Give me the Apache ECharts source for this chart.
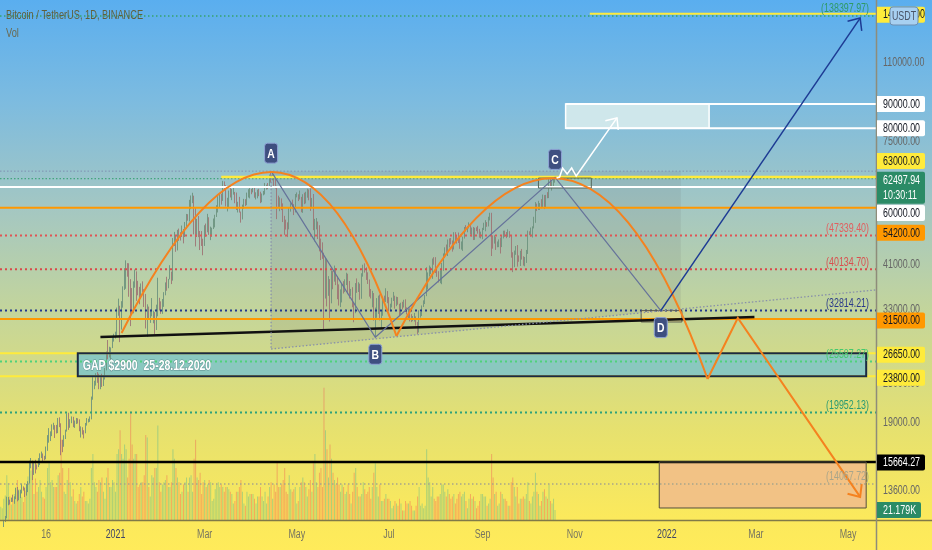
<!DOCTYPE html>
<html>
<head>
<meta charset="utf-8">
<title>Bitcoin / TetherUS, 1D, BINANCE</title>
<script src="https://cdn.jsdelivr.net/npm/echarts@6.0.0/dist/echarts.min.js"></script>
<style>
html,body{margin:0;padding:0;overflow:hidden;background:#fff;}
#chart{width:932px;height:550px;}
</style>
</head>
<body>
<div id="chart"></div>
<script>
// ---------------- categories: one per calendar day ----------------
const firstDay = '2020-10-17';
const dayCount = 580;
const categories = [];
(function () {
  const t0 = Date.parse(firstDay + 'T00:00:00Z');
  for (let i = 0; i < dayCount; i++) categories.push(new Date(t0 + i * 86400000).toISOString().slice(0, 10));
})();

// ---------------- daily candles (thousand USDT): [open, high, low, close] ----------------
const ohlcOct20 = [[11.32,11.42,11.24,11.36],[11.36,11.49,11.33,11.48],[11.48,11.80,11.40,11.74],[11.74,12.03,11.68,11.92],[11.92,13.22,11.90,12.82],[12.82,13.20,12.68,12.97],[12.97,13.03,12.72,12.93],[12.93,13.16,12.88,13.12],[13.12,13.35,12.90,13.04],[13.04,13.24,12.77,13.07],[13.07,13.79,13.06,13.64],[13.64,13.86,12.92,13.27],[13.27,13.64,12.99,13.46],[13.46,13.68,13.13,13.56],[13.56,14.10,13.43,13.80]];
const ohlcNov20 = [[13.80,13.90,13.62,13.76],[13.76,13.82,13.20,13.55],[13.55,14.07,13.29,14.03],[14.03,14.26,13.52,14.16],[14.16,15.76,14.09,15.59],[15.59,15.97,15.19,15.59],[15.59,15.77,14.34,14.84],[14.84,15.67,14.70,15.48],[15.48,15.83,14.81,15.33],[15.33,15.48,15.10,15.31],[15.31,15.96,15.28,15.70],[15.70,16.34,15.43,16.28],[16.28,16.48,15.96,16.32],[16.32,16.33,15.71,16.07],[16.07,16.14,15.80,15.96],[15.96,16.89,15.87,16.72],[16.72,17.86,16.54,17.66],[17.66,18.48,17.21,17.80],[17.80,18.19,17.35,17.82],[17.82,18.82,17.77,18.65],[18.65,18.97,18.34,18.70],[18.70,18.75,17.61,18.42],[18.42,18.77,18.00,18.37],[18.37,19.42,18.03,19.15],[19.15,19.48,18.57,18.73],[18.73,18.92,16.19,17.15],[17.15,17.46,16.43,17.14],[17.14,17.85,16.87,17.72],[17.72,18.34,17.52,18.18],[18.18,19.86,18.17,19.70]];
const ohlcDec20 = [[19.70,19.92,18.32,18.77],[18.77,19.31,18.51,19.21],[19.21,19.57,18.93,19.42],[19.42,19.53,18.57,18.65],[18.65,19.18,18.50,19.15],[19.15,19.42,18.86,19.36],[19.36,19.39,18.90,19.17],[19.17,19.29,18.20,18.32],[18.32,18.64,17.65,18.55],[18.55,18.56,17.91,18.25],[18.25,18.29,17.57,18.04],[18.04,18.95,18.02,18.80],[18.80,19.41,18.71,19.17],[19.17,19.35,19.00,19.27],[19.27,19.57,19.05,19.43],[19.43,21.56,19.29,21.37],[21.37,23.80,21.23,22.80],[22.80,23.29,22.35,23.11],[23.11,24.17,22.75,23.83],[23.83,24.30,23.06,23.47],[23.47,24.10,22.35,22.72],[22.72,23.84,22.35,23.81],[23.81,24.10,22.60,23.23],[23.23,23.79,22.70,23.73],[23.73,24.79,23.43,24.71],[24.71,26.87,24.50,26.49],[26.49,28.42,25.86,26.28],[26.28,27.50,26.10,27.08],[27.08,27.41,25.88,27.39],[27.39,28.99,27.32,28.88],[28.88,29.30,28.20,28.92]];
const ohlcJan21 = [[28.92,29.60,28.62,29.33],[29.33,33.30,28.95,32.18],[32.18,34.79,32.00,33.00],[33.00,33.60,28.13,31.99],[31.99,34.36,29.90,33.95],[33.95,36.94,33.29,36.77],[36.77,40.37,36.30,39.43],[39.43,41.95,36.50,40.58],[40.58,41.38,38.72,40.09],[40.09,41.35,35.11,38.15],[38.15,38.26,30.42,35.40],[35.40,36.63,32.53,34.05],[34.05,37.85,32.38,37.37],[37.37,40.10,36.70,39.15],[39.15,39.75,34.41,36.74],[36.74,37.95,35.36,36.01],[36.01,36.85,33.85,35.80],[35.80,37.47,34.80,36.63],[36.63,37.85,35.90,36.01],[36.01,36.42,33.40,35.53],[35.53,35.60,30.07,30.83],[30.83,33.83,28.85,33.01],[33.01,33.46,31.39,32.09],[32.09,32.94,30.90,32.27],[32.27,34.88,31.91,32.37],[32.37,32.79,30.84,32.57],[32.57,32.57,29.24,30.43],[30.43,33.78,29.85,33.47],[33.47,38.53,31.91,34.32],[34.32,34.93,32.83,34.28],[34.28,34.33,32.30,33.11]];
const ohlcFeb21 = [[33.11,34.72,32.30,33.53],[33.53,35.90,33.42,35.51],[35.51,37.66,35.36,37.67],[37.67,38.71,36.16,36.92],[36.92,38.31,36.60,38.29],[38.29,40.96,38.22,39.26],[39.26,39.70,37.35,38.88],[38.88,46.79,37.99,46.45],[46.45,48.20,45.00,46.51],[46.51,47.31,43.73,44.84],[44.84,48.68,44.02,47.97],[47.97,48.98,46.13,47.41],[47.41,48.13,46.20,47.23],[47.23,49.71,47.02,48.69],[48.69,48.88,45.57,47.94],[47.94,50.60,47.00,49.16],[49.16,52.62,48.95,52.15],[52.15,52.55,50.90,51.68],[51.68,56.37,50.71,55.89],[55.89,57.58,53.86,55.92],[55.92,58.35,55.48,57.41],[57.41,57.53,47.62,54.09],[54.09,54.18,44.89,48.89],[48.89,51.37,47.00,49.68],[49.68,52.07,46.99,47.07],[47.07,48.42,44.11,46.28],[46.28,48.39,45.00,46.11],[46.11,46.62,43.00,45.14]];
const ohlcMar21 = [[45.14,49.79,45.00,49.59],[49.59,50.20,47.05,48.44],[48.44,52.64,48.10,50.35],[50.35,51.77,47.50,48.37],[48.37,49.45,46.30,48.75],[48.75,49.20,47.07,48.88],[48.88,51.45,48.88,50.97],[50.97,52.40,49.27,52.38],[52.38,54.90,51.85,54.88],[54.88,57.39,53.00,55.86],[55.86,58.15,54.27,57.80],[57.80,58.06,55.06,57.22],[57.22,61.84,56.08,61.18],[61.18,61.68,59.00,59.00],[59.00,60.60,54.57,55.64],[55.64,56.94,53.27,56.91],[56.91,58.99,54.12,58.91],[58.91,60.05,57.02,57.65],[57.65,59.45,56.27,58.03],[58.03,59.88,57.82,58.10],[58.10,58.59,55.45,57.35],[57.35,58.42,53.65,54.08],[54.08,55.83,53.00,54.34],[54.34,57.20,52.97,52.30],[52.30,53.23,50.43,51.30],[51.30,55.07,51.23,55.05],[55.05,56.64,53.96,55.86],[55.86,56.56,54.69,55.78],[55.78,58.40,54.90,57.63],[57.63,59.37,57.01,58.73],[58.73,59.80,56.77,58.74]];
const ohlcApr21 = [[58.74,59.46,57.94,58.72],[58.72,60.04,58.46,58.99],[58.99,59.79,56.96,57.06],[57.06,58.49,56.48,58.20],[58.20,59.25,56.79,59.13],[59.13,59.48,57.37,57.99],[57.99,58.66,55.47,56.00],[56.00,58.15,55.70,58.08],[58.08,58.88,57.63,58.09],[58.09,61.22,57.87,59.77],[59.77,60.70,59.26,60.00],[60.00,61.20,59.37,59.86],[59.86,63.77,59.79,63.58],[63.58,64.85,61.30,62.96],[62.96,63.80,62.02,63.16],[63.16,63.56,60.00,61.34],[61.34,62.50,59.58,60.01],[60.01,60.40,51.30,56.15],[56.15,57.53,54.22,55.66],[55.66,57.06,53.33,56.47],[56.47,56.76,53.62,53.80],[53.80,55.41,50.58,51.70],[51.70,52.13,47.50,51.15],[51.15,51.17,48.75,50.11],[50.11,50.50,47.00,49.07],[49.07,54.36,48.80,54.03],[54.03,55.46,53.22,55.04],[55.04,56.43,53.88,54.86],[54.86,55.20,52.33,53.56],[53.56,58.00,53.01,57.69]];
const ohlcMay21 = [[57.69,58.45,57.05,57.80],[57.80,57.93,56.04,56.58],[56.58,58.98,56.48,57.17],[57.17,57.20,53.05,53.20],[53.20,57.94,52.90,57.44],[57.44,58.36,55.20,56.40],[56.40,58.64,55.38,57.35],[57.35,59.50,56.96,58.86],[58.86,59.30,56.24,58.24],[58.24,59.59,53.40,55.82],[55.82,56.90,54.44,56.67],[56.67,58.00,48.60,49.38],[49.38,51.37,46.00,49.70],[49.70,51.58,48.80,49.88],[49.88,50.70,46.55,46.76],[46.76,49.79,43.83,46.45],[46.45,46.64,42.00,43.54],[43.54,45.80,42.25,42.90],[42.90,43.55,30.00,36.96],[36.96,42.45,34.80,40.60],[40.60,42.25,33.49,37.30],[37.30,38.83,35.27,37.53],[37.53,38.27,31.11,34.65],[34.65,39.92,34.00,38.80],[38.80,39.80,36.42,38.32],[38.32,40.89,37.80,39.24],[39.24,40.41,37.17,38.44],[38.44,38.86,34.69,35.66],[35.66,37.30,33.63,34.59],[34.59,36.40,33.38,35.65],[35.65,37.50,34.15,37.34]];
const ohlcJun21 = [[37.34,37.89,35.67,36.69],[36.69,38.23,35.92,37.57],[37.57,39.48,37.17,39.19],[39.19,39.29,35.56,36.85],[36.85,37.92,34.80,35.52],[35.52,36.48,35.26,35.80],[35.80,36.79,33.35,33.59],[33.59,34.07,31.00,33.38],[33.38,37.53,32.40,37.39],[37.39,38.40,35.79,36.69],[36.69,37.69,35.94,37.34],[37.34,37.44,34.60,35.55],[35.55,39.38,34.76,39.02],[39.02,41.06,38.73,40.52],[40.52,41.33,39.51,40.14],[40.14,40.53,38.12,38.35],[38.35,39.56,37.37,38.09],[38.09,38.20,35.13,35.82],[35.82,36.46,34.82,35.48],[35.48,36.14,33.34,35.60],[35.60,35.75,31.25,31.68],[31.68,33.30,28.81,32.51],[32.51,34.88,31.68,33.68],[33.68,35.30,32.29,34.64],[34.64,35.50,31.28,31.64],[31.64,32.73,30.15,32.16],[32.16,34.75,32.00,34.65],[34.65,35.30,33.86,34.50],[34.50,36.60,34.23,35.91],[35.91,36.10,34.02,35.04]];
const ohlcJul21 = [[35.04,35.04,32.71,33.54],[33.54,33.94,32.70,33.80],[33.80,34.95,33.32,34.65],[34.65,35.94,34.39,35.29],[35.29,35.29,33.13,33.69],[33.69,35.12,33.53,34.22],[34.22,35.06,33.77,33.86],[33.86,33.92,32.11,32.88],[32.88,34.10,32.26,33.81],[33.81,34.26,33.00,33.51],[33.51,34.59,33.31,34.26],[34.26,34.68,32.66,33.09],[33.09,33.34,32.20,32.73],[32.73,33.11,31.57,32.82],[32.82,33.19,31.13,31.78],[31.78,32.25,31.02,31.39],[31.39,31.95,31.16,31.53],[31.53,32.44,31.10,31.78],[31.78,31.90,30.50,30.84],[30.84,31.04,29.28,29.79],[29.79,32.86,29.48,32.11],[32.11,32.58,31.71,32.29],[32.29,33.65,31.95,33.58],[33.58,34.50,33.40,34.29],[34.29,35.40,33.88,35.38],[35.38,40.55,35.21,37.27],[37.27,39.54,36.38,39.46],[39.46,40.90,38.77,39.98],[39.98,40.64,39.20,40.02],[40.02,42.32,38.32,42.20],[42.20,42.60,41.06,41.46]];
const ohlcAug21 = [[41.46,42.60,39.42,39.85],[39.85,40.45,38.69,39.15],[39.15,39.78,37.64,38.21],[38.21,39.97,37.51,39.74],[39.74,41.40,37.33,40.87],[40.87,43.39,39.85,42.84],[42.84,44.70,42.45,44.60],[44.60,45.31,43.26,43.83],[43.83,46.45,42.84,46.29],[46.29,46.70,44.67,45.60],[45.60,46.78,45.35,45.54],[45.54,46.22,43.77,44.40],[44.40,48.14,44.24,47.82],[47.82,48.14,45.97,47.10],[47.10,47.37,45.52,47.05],[47.05,48.05,45.66,45.97],[45.97,47.16,44.38,44.69],[44.69,46.00,44.20,44.71],[44.71,47.09,43.93,46.76],[46.76,49.38,46.65,49.34],[49.34,49.82,48.29,48.87],[48.87,49.53,48.12,49.29],[49.29,50.50,49.03,49.51],[49.51,49.88,47.60,47.71],[47.71,49.23,47.13,48.99],[48.99,49.37,46.32,46.85],[46.85,49.18,46.36,49.07],[49.07,49.30,48.37,48.90],[48.90,49.64,47.78,48.81],[48.81,48.91,46.86,46.99],[46.99,48.25,46.70,47.11]];
const ohlcSep21 = [[47.11,49.16,46.51,48.85],[48.85,50.40,48.64,49.28],[49.28,51.05,48.35,50.03],[50.03,50.56,49.41,49.94],[49.94,51.90,49.50,51.76],[51.76,52.92,50.98,52.66],[52.66,52.92,42.84,46.86],[46.86,47.38,44.41,46.05],[46.05,47.40,45.52,46.40],[46.40,47.03,44.13,44.85],[44.85,45.99,44.72,45.15],[45.15,46.46,44.74,46.06],[46.06,46.88,43.37,44.96],[44.96,47.25,44.75,47.09],[47.09,48.48,46.69,48.14],[48.14,48.49,47.04,47.76],[47.76,48.17,46.75,47.30],[47.30,48.81,47.05,48.31],[48.31,48.37,46.85,47.26],[47.26,47.34,42.50,42.97],[42.97,43.63,39.60,40.69],[40.69,44.00,40.57,43.57],[43.57,44.98,43.09,44.90],[44.90,45.20,40.68,42.84],[42.84,42.97,41.65,42.72],[42.72,43.94,40.80,43.21],[43.21,44.35,42.10,42.17],[42.17,42.79,40.89,41.03],[41.03,42.64,40.75,41.52],[41.52,44.13,41.42,43.82]];
const ohlcOct21 = [[43.82,48.50,43.28,48.14],[48.14,48.34,47.43,47.68],[47.68,49.23,47.10,48.23],[48.23,49.53,46.89,49.25],[49.25,51.89,49.02,51.49],[51.49,55.75,50.38,55.34],[55.34,55.34,53.36,53.80],[53.80,56.10,53.65,53.97],[53.97,55.49,53.66,54.97],[54.97,56.56,54.10,54.66],[54.66,57.84,54.42,57.48],[57.48,57.68,53.88,56.01],[56.01,57.75,54.25,57.37],[57.37,58.53,56.82,57.35],[57.35,62.93,56.85,61.67],[61.67,62.35,60.15,60.88],[60.88,61.72,58.96,61.53],[61.53,62.70,59.84,62.01],[62.01,62.90,61.30,62.49794]];

// ---------------- daily volume (thousand BTC) ----------------
const volOct20 = [28,25,45,52,95,78,50,33,40,55,70,85,65,60,48];
const volNov20 = [38,62,70,92,110,105,90,55,88,60,70,85,60,48,45,70,110,120,80,85,70,70,70,95,100,170,110,60,55,85];
const volDec20 = [110,80,50,65,40,35,40,55,70,50,60,40,40,35,45,110,140,80,70,60,85,80,90,60,45,90,110,70,70,85,80];
const volJan21 = [60,140,150,190,140,130,160,150,90,130,230,160,130,140,140,70,75,80,80,95,180,175,70,50,95,90,110,110,200,80,60];
const volFeb21 = [75,80,85,95,70,70,80,150,130,110,90,80,55,60,75,80,90,60,90,95,60,130,170,90,85,100,55,80];
const volMar21 = [85,70,75,85,80,40,45,65,75,80,70,75,70,60,70,70,65,60,55,35,40,60,60,70,85,60,35,30,60,50,55];
const volApr21 = [55,55,45,35,50,50,70,50,40,60,35,50,70,80,45,75,60,125,70,70,75,85,110,60,55,95,65,60,65,70];
const volMay21 = [35,40,70,80,90,80,70,50,65,85,60,120,140,80,70,100,110,70,280,190,150,90,160,130,100,85,75,90,75,60,75];
const volJun21 = [70,55,60,75,55,35,60,100,110,70,50,50,55,80,65,55,60,70,45,70,100,120,70,50,75,40,40,45,55,45];
const volJul21 = [45,40,25,30,40,35,30,45,35,20,20,40,35,35,40,30,20,20,30,50,70,30,35,25,30,150,90,80,50,70,45];
const volAug21 = [40,50,50,55,75,75,60,50,65,55,45,50,55,35,45,55,60,50,55,60,40,25,45,55,45,50,40,25,30,40,55];
const volSep21 = [55,50,50,30,35,45,140,90,55,60,30,35,60,55,45,45,40,30,30,80,90,70,50,70,35,45,45,50,45,55];
const volOct21 = [80,40,35,50,60,100,60,55,30,40,60,65,50,45,75,40,35,45,21.179];

// ---------------- price levels & scale texts ----------------
const keyLevels = [140000, 90000, 80000, 63000, 60000, 54200, 31500, 26650, 23800, 15664.27];
const measuredLevels = [138397.97, 47339.40, 40134.70, 32814.21, 25587.27, 19952.13, 14067.72];
const athLevel = 64854;
const lastPrice = 62497.94;
const countdownText = '10:30:11';
const lastVolumeK = 21.179;
const priceTicks = [110000, 75000, 41000, 33000, 23000, 19000, 13600];
const timeTickDates = ['2020-11-16','2021-01-01','2021-03-01','2021-05-01','2021-07-01','2021-09-01','2021-11-01','2022-01-01','2022-03-01','2022-05-01'];
const timeTickTexts = ['16','2021','Mar','May','Jul','Sep','Nov','2022','Mar','May'];

// ---------------- drawing anchors: [date, price] ----------------
const patternABCD = [['2021-04-14', 64854], ['2021-06-22', 28805], ['2021-10-19', 62900], ['2021-12-28', 32814.21]];
const patternNames = ['A', 'B', 'C', 'D'];
const supportLine = [['2020-12-22', 28845], ['2022-02-28', 31805]];
const arcOne = [['2021-01-05', 29413], ['2021-04-23', 142740], ['2021-07-06', 28987]];
const arcTwo = [['2021-07-06', 28987], ['2021-10-30', 149600], ['2022-01-28', 23490]];
const bearPath = [['2022-01-28', 23490], ['2022-02-17', 31650], ['2022-05-09', 13204]];
const bullPath = [['2021-12-28', 32814.21], ['2022-05-09', 137000]];
const breakoutPath = [['2021-10-20', 62700], ['2021-10-22', 63010], ['2021-10-24', 65866], ['2021-10-27', 63950], ['2021-10-30', 65866], ['2021-11-02', 63325], ['2021-11-29', 84116]];
const gapZone = [['2020-12-07', 26650], ['2022-05-13', 23800]];
const gapText = 'GAP $2900  25-28.12.2020';
const targetZone = [['2021-10-26', 90000], ['2022-01-29', 80000]];
const bottomZone = [['2021-12-27', 15664.27], ['2022-05-13', 12510]];
const zoneC = [['2021-10-08', 62700], ['2021-11-12', 59720]];
const zoneD = [['2021-12-15', 32814.21], ['2022-01-11', 31040]];
const channelFloor = [['2021-04-14', 27200], ['2022-05-19', 36290]];
const titleText = 'Bitcoin / TetherUS, 1D, BINANCE';
const volText = 'Vol';

// ---------------- build series data ----------------
const ohlcAll = [].concat(ohlcOct20, ohlcNov20, ohlcDec20, ohlcJan21, ohlcFeb21, ohlcMar21, ohlcApr21, ohlcMay21, ohlcJun21, ohlcJul21, ohlcAug21, ohlcSep21, ohlcOct21);
const volAll = [].concat(volOct20, volNov20, volDec20, volJan21, volFeb21, volMar21, volApr21, volMay21, volJun21, volJul21, volAug21, volSep21, volOct21);
const candleData = ohlcAll.map(r => [r[0] * 1000, r[3] * 1000, r[2] * 1000, r[1] * 1000]);
const volumeData = volAll.map((v, i) => ({
  value: v,
  itemStyle: { color: ohlcAll[i][3] >= ohlcAll[i][0] ? 'rgba(38,166,154,0.34)' : 'rgba(239,83,80,0.4)' }
}));
const idx = d => categories.indexOf(d);

// ---------------- styling ----------------
const SQ = 0.74;
const FONT = '"Liberation Sans", Arial, sans-serif';
const keyStyle = {
  140000: { c: '#ffeb3b', w: 2, from: '2021-11-11', box: '#ffeb3b', t: '#131722', dy: 1 },
  90000: { c: '#ffffff', w: 2, from: '2021-10-26', box: '#ffffff', t: '#131722', dy: 0 },
  80000: { c: '#ffffff', w: 2, from: '2021-10-26', box: '#ffffff', t: '#131722', dy: 0 },
  63000: { c: '#ffeb3b', w: 2.5, from: '2021-03-12', box: '#ffeb3b', t: '#131722', dy: -16 },
  60000: { c: '#ffffff', w: 2, box: '#ffffff', t: '#131722', dy: 26 },
  54200: { c: '#ff9800', w: 2, box: '#ff9800', t: '#131722', dy: 25 },
  31500: { c: '#ff9800', w: 2, box: '#ff9800', t: '#131722', dy: 1.5 },
  26650: { c: '#ffeb3b', w: 2, box: '#ffeb3b', t: '#131722', dy: 1.5 },
  23800: { c: '#ffeb3b', w: 2, box: '#ffeb3b', t: '#131722', dy: 1.5 },
  15664.27: { c: '#000000', w: 2.5, box: '#000000', t: '#ffffff', dy: 0.5 }
};
const measuredStyle = {
  138397.97: { c: '#36a36f', t: '#2f9a66', w: 1.5, dash: [1.5, 2.5] },
  47339.4: { c: '#e05454', t: '#e06060', w: 2, dash: [2, 3] },
  40134.7: { c: '#d84a4a', t: '#d85050', w: 2, dash: [2, 3] },
  32814.21: { c: '#22388f', t: '#2a3a8a', w: 2, dash: [2, 3] },
  25587.27: { c: '#4fd27a', t: '#45c96e', w: 2, dash: [2, 3] },
  19952.13: { c: '#2ea27a', t: '#2a9a72', w: 2, dash: [2, 3] },
  14067.72: { c: '#a8a58a', t: '#a8a58a', w: 1.5, dash: [1.5, 2.5] }
};

function txt(x, y, s, o) {
  o = o || {};
  return {
    type: 'text', x: x, y: y, scaleX: o.sq || SQ, silent: true,
    style: {
      text: s, x: 0, y: 0, fill: o.fill || '#6a6a6a',
      fontSize: o.size || 12, fontFamily: FONT, fontWeight: o.weight || 'normal',
      align: o.align || 'left', verticalAlign: 'middle',
      stroke: o.stroke || null, lineWidth: o.lw || 0
    }
  };
}
function seg(x1, y1, x2, y2, stroke, w, dash) {
  return { type: 'line', silent: true, shape: { x1: x1, y1: y1, x2: x2, y2: y2 }, style: { stroke: stroke, lineWidth: w, lineDash: dash || null, fill: 'none' } };
}
function poly(points, stroke, w, dash) {
  return { type: 'polyline', silent: true, shape: { points: points }, style: { stroke: stroke, lineWidth: w, lineDash: dash || null, fill: 'none' } };
}
function arrowHead(from, tip, len, stroke, w) {
  const a = Math.atan2(from[1] - tip[1], from[0] - tip[0]);
  const h = 0.72;
  return poly([[tip[0] + len * Math.cos(a + h), tip[1] + len * Math.sin(a + h)], tip, [tip[0] + len * Math.cos(a - h), tip[1] + len * Math.sin(a - h)]], stroke, w);
}

function helpers(params, api) {
  const cs = params.coordSys;
  const P = a => api.coord([idx(a[0]), a[1]]);
  const Y = p => api.coord([0, p])[1];
  const X = d => api.coord([idx(d), 50000])[0];
  const rectOf = z => { const p = P(z[0]), q = P(z[1]); return { x: Math.min(p[0], q[0]), y: Math.min(p[1], q[1]), width: Math.abs(q[0] - p[0]), height: Math.abs(q[1] - p[1]) }; };
  return { L: cs.x, R: cs.x + cs.width, T: cs.y, B: cs.y + cs.height, P: P, Y: Y, X: X, rectOf: rectOf };
}

function renderUnder(params, api) {
  const h = helpers(params, api);
  const k = [];
  const A = h.P(patternABCD[0]), D = h.P(patternABCD[3]);
  const f0 = h.P(channelFloor[0]), f1 = h.P(channelFloor[1]);
  const yTop = h.Y(athLevel);
  const fy = x => f0[1] + (f1[1] - f0[1]) * (x - f0[0]) / (f1[0] - f0[0]);
  k.push({ type: 'polygon', silent: true, shape: { points: [[A[0], yTop], [D[0] + 20, yTop], [D[0] + 20, fy(D[0] + 20)], [f0[0], f0[1]]] }, style: { fill: 'rgba(105,105,110,0.13)' } });
  k.push({ type: 'rect', silent: true, shape: h.rectOf(targetZone), style: { fill: '#cfe7eb' } });
  k.push({ type: 'rect', silent: true, shape: h.rectOf(bottomZone), style: { fill: '#f2c285' } });
  k.push({ type: 'rect', silent: true, shape: h.rectOf(gapZone), style: { fill: 'rgba(132,198,196,0.93)' } });
  k.push({ type: 'rect', silent: true, shape: h.rectOf(zoneC), style: { fill: 'rgba(170,215,185,0.35)' } });
  k.push({ type: 'rect', silent: true, shape: h.rectOf(zoneD), style: { fill: 'rgba(255,222,120,0.35)' } });
  return { type: 'group', children: k };
}

function renderOver(params, api) {
  const h = helpers(params, api);
  const L = h.L, R = h.R, B = h.B, T = h.T, P = h.P, Y = h.Y, X = h.X;
  const W = api.getWidth(), H = api.getHeight();
  const k = [];

  measuredLevels.forEach(p => { const s = measuredStyle[p]; k.push(seg(L, Y(p), R, Y(p), s.c, s.w, s.dash)); });
  k.push(seg(L, Y(athLevel), R, Y(athLevel), '#8090b2', 1, [1.5, 2]));
  k.push(seg(L, Y(lastPrice), R, Y(lastPrice), '#2f9d6b', 1, [1.5, 2]));
  keyLevels.forEach(p => { const s = keyStyle[p]; const x0 = s.from ? X(s.from) : L; k.push(seg(x0, Y(p), R, Y(p), s.c, s.w)); });

  const g = h.rectOf(gapZone);
  k.push({ type: 'rect', silent: true, shape: g, style: { fill: 'none', stroke: '#1b2a44', lineWidth: 2 } });
  k.push(txt(g.x + 5, g.y + g.height / 2 + 1, gapText, { fill: '#ffffff', size: 14, sq: 0.75, weight: 'bold', stroke: 'rgba(45,70,85,0.45)', lw: 1 }));
  k.push({ type: 'rect', silent: true, shape: h.rectOf(targetZone), style: { fill: 'none', stroke: '#ffffff', lineWidth: 1.5 } });
  k.push({ type: 'rect', silent: true, shape: h.rectOf(bottomZone), style: { fill: 'none', stroke: '#55503e', lineWidth: 1 } });
  k.push({ type: 'rect', silent: true, shape: h.rectOf(zoneC), style: { fill: 'none', stroke: '#55675c', lineWidth: 1 } });
  k.push({ type: 'rect', silent: true, shape: h.rectOf(zoneD), style: { fill: 'none', stroke: '#5c5c50', lineWidth: 1 } });

  k.push(seg(...P(supportLine[0]), ...P(supportLine[1]), '#111111', 2.5));

  const A = P(patternABCD[0]);
  const f0 = P(channelFloor[0]), f1 = P(channelFloor[1]);
  k.push(seg(f0[0], f0[1], f1[0], f1[1], '#8890aa', 1.3, [1.5, 2]));
  k.push(seg(A[0], A[1], f0[0], f0[1], '#8890aa', 1.3, [1.5, 2]));

  k.push(poly(patternABCD.map(P), '#66739a', 1.2));

  [arcOne, arcTwo].forEach(arc => {
    const s = P(arc[0]), c = P(arc[1]), e = P(arc[2]);
    k.push({ type: 'bezierCurve', silent: true, shape: { x1: s[0], y1: s[1], cpx1: c[0], cpy1: c[1], x2: e[0], y2: e[1] }, style: { stroke: '#f5821f', lineWidth: 2, fill: 'none' } });
  });
  const bp = bearPath.map(P);
  k.push(poly(bp, '#f5821f', 2));
  k.push(arrowHead(bp[1], bp[2], 13, '#f5821f', 2));

  const bl = bullPath.map(P);
  k.push(poly(bl, '#1d3b94', 1.5));
  k.push(arrowHead(bl[0], bl[1], 13, '#1d3b94', 1.5));

  const wz = breakoutPath.map(P);
  k.push(poly(wz, '#ffffff', 1.5));
  k.push(arrowHead(wz[wz.length - 2], wz[wz.length - 1], 12, '#ffffff', 1.5));

  patternABCD.forEach((a, i) => {
    const p = P(a);
    const up = (i === 0 || i === 2);
    const cy = up ? p[1] - 18 : p[1] + 17;
    k.push({ type: 'rect', silent: true, shape: { x: p[0] - 6.5, y: cy - 10, width: 13, height: 20, r: 3 }, style: { fill: '#3e4f80', stroke: '#8fa3d6', lineWidth: 1 } });
    k.push(txt(p[0], cy + 1, patternNames[i], { fill: '#ffffff', size: 13, align: 'center', weight: 'bold', sq: 0.8 }));
  });

  measuredLevels.forEach(p => { const s = measuredStyle[p]; k.push(txt(R - 7, Y(p) - 7, '(' + p.toFixed(2) + ')', { fill: s.t, align: 'right' })); });

  k.push(seg(0, B + 0.5, W, B + 0.5, '#807a48', 1.5));
  k.push(seg(R + 0.5, 0, R + 0.5, H, '#8e8c7a', 1.5));

  priceTicks.forEach(p => k.push(txt(R + 7, Y(p), p.toFixed(2), { fill: '#666666' })));
  keyLevels.forEach(p => {
    const s = keyStyle[p];
    const cy = Y(p) + s.dy;
    k.push({ type: 'rect', silent: true, shape: { x: R + 1, y: cy - 8, width: 48, height: 16, r: [0, 2, 2, 0] }, style: { fill: s.box } });
    k.push(txt(R + 7, cy + 0.5, p.toFixed(2), { fill: s.t }));
  });
  const ly = Y(lastPrice);
  k.push({ type: 'rect', silent: true, shape: { x: R + 1, y: ly - 7, width: 48, height: 32, r: [0, 2, 2, 0] }, style: { fill: '#2b8b66' } });
  k.push(txt(R + 7, ly + 2, lastPrice.toFixed(2), { fill: '#ffffff' }));
  k.push(txt(R + 7, ly + 17, countdownText, { fill: '#ffffff' }));
  k.push({ type: 'rect', silent: true, shape: { x: R + 14, y: T + 7, width: 28, height: 18, r: 3 }, style: { fill: '#a7d0f1', stroke: '#6f8fb0', lineWidth: 1 } });
  k.push(txt(R + 28, T + 16.5, 'USDT', { fill: '#4a5568', align: 'center', size: 12 }));

  timeTickDates.forEach((d, i) => {
    const isYear = timeTickTexts[i].length === 4;
    k.push(txt(X(d), B + 15, timeTickTexts[i], { fill: isYear ? '#3f4566' : '#777560', align: 'center', size: 12 }));
  });

  k.push(txt(L + 6, T + 16, titleText, { fill: '#605f3a', size: 12, sq: 0.77 }));
  k.push(txt(L + 6, T + 34, volText, { fill: '#6a6950', size: 12, sq: 0.77 }));

  return { type: 'group', children: k };
}

function renderVolLabel(params, api) {
  const cs = params.coordSys;
  const R = cs.x + cs.width;
  const y = api.coord([ohlcAll.length - 1, lastVolumeK])[1];
  return { type: 'group', children: [
    { type: 'rect', silent: true, shape: { x: R + 1, y: y - 8, width: 44, height: 16, r: [0, 2, 2, 0] }, style: { fill: '#2b8b66' } },
    txt(R + 7, y + 0.5, lastVolumeK.toFixed(3) + 'K', { fill: '#ffffff' })
  ] };
}

const chart = echarts.init(document.getElementById('chart'), null, { renderer: 'canvas' });
chart.setOption({
  animation: false,
  backgroundColor: 'transparent',
  graphic: [{
    type: 'rect', z: -10, silent: true, left: 0, top: 0,
    shape: { width: 932, height: 550 },
    style: { fill: new echarts.graphic.LinearGradient(0, 0, 0, 1, [
      { offset: 0, color: '#5aaeef' },
      { offset: 0.18, color: '#7cbbe0' },
      { offset: 0.38, color: '#a4c7c2' },
      { offset: 0.58, color: '#c6d698' },
      { offset: 0.78, color: '#e6e16f' },
      { offset: 0.94, color: '#fbe95c' },
      { offset: 1, color: '#ffeb5a' }
    ]) }
  }],
  grid: [
    { left: 0, right: 56, top: 0, bottom: 30, outerBoundsMode: 'none', containLabel: false },
    { left: 0, right: 56, top: 250, bottom: 30, outerBoundsMode: 'none', containLabel: false }
  ],
  xAxis: [
    { type: 'category', data: categories, boundaryGap: true, gridIndex: 0, show: false },
    { type: 'category', data: categories, boundaryGap: true, gridIndex: 1, show: false }
  ],
  yAxis: [
    { type: 'log', logBase: 10, min: 11797, max: 149638, gridIndex: 0, show: false, position: 'right' },
    { type: 'value', min: 0, max: 572, gridIndex: 1, show: false }
  ],
  series: [
    { type: 'bar', name: 'Vol', xAxisIndex: 1, yAxisIndex: 1, data: volumeData, barWidth: 1, z: 1, silent: true },
    { type: 'custom', name: 'under', xAxisIndex: 0, yAxisIndex: 0, z: 1, clip: false, silent: true, data: [[0, 50000]], renderItem: renderUnder },
    {
      type: 'candlestick', name: 'BTCUSDT', xAxisIndex: 0, yAxisIndex: 0, data: candleData, z: 3,
      barWidth: 1, silent: true,
      itemStyle: { color: '#6f9a86', color0: '#ad7a7a', borderColor: '#6c927e', borderColor0: '#9e7474', borderWidth: 0.9 }
    },
    { type: 'custom', name: 'over', xAxisIndex: 0, yAxisIndex: 0, z: 5, clip: false, silent: true, data: [[0, 50000]], renderItem: renderOver },
    { type: 'custom', name: 'volLabel', xAxisIndex: 1, yAxisIndex: 1, z: 6, clip: false, silent: true, data: [[0, 10]], renderItem: renderVolLabel }
  ]
});
</script>
</body>
</html>
